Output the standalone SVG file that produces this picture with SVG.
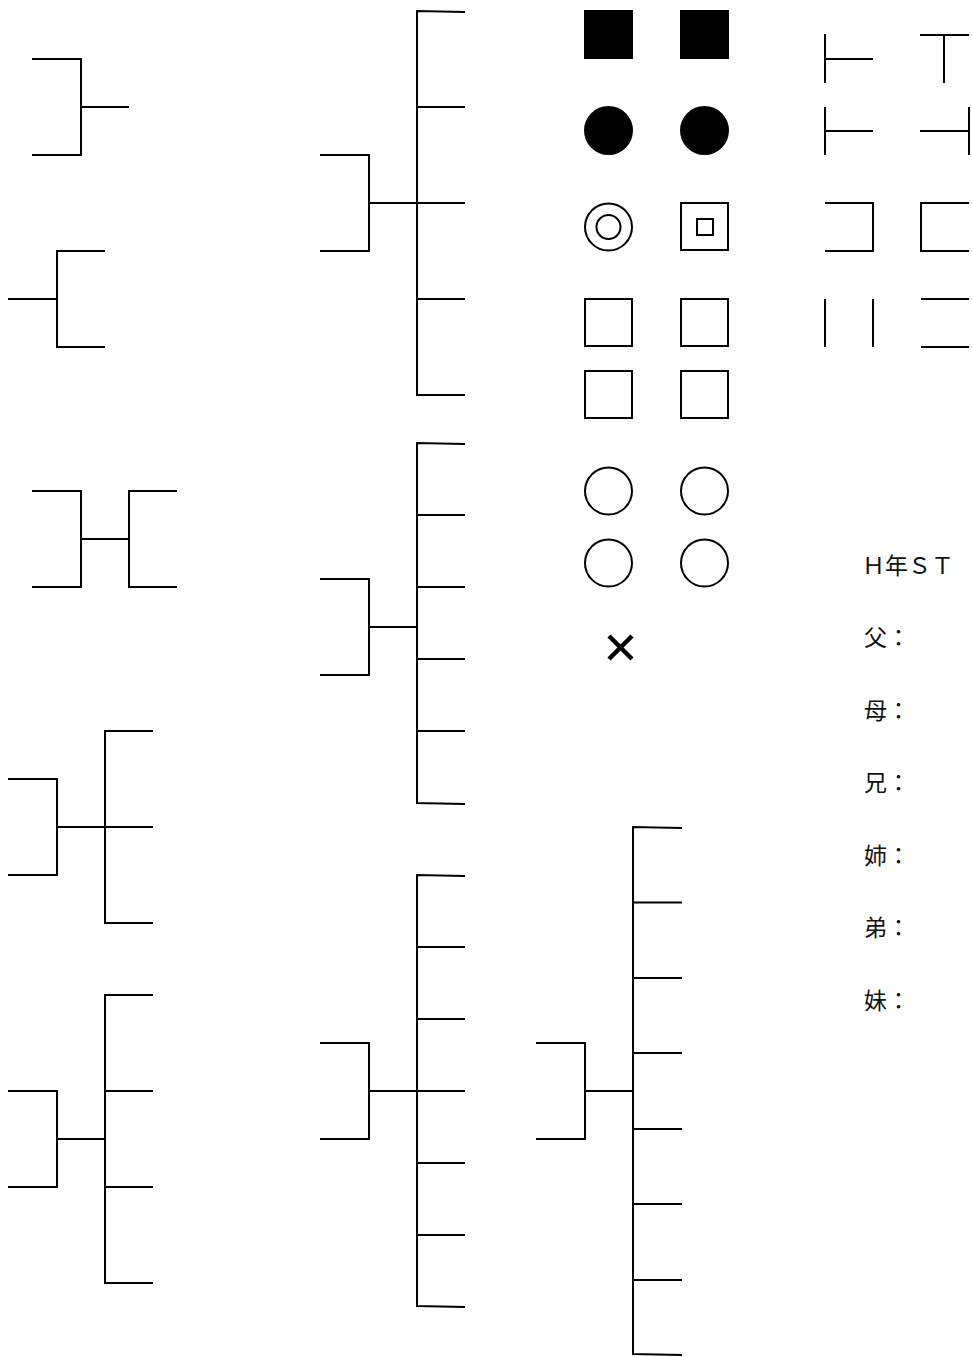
<svg xmlns="http://www.w3.org/2000/svg" width="972" height="1357" viewBox="0 0 972 1357">
<style>
.ln{fill:none;stroke:#000;stroke-width:2;stroke-linecap:butt;stroke-linejoin:miter}
.sym{fill:none;stroke:#000;stroke-width:2}
.fill{fill:#000;stroke:none}
.lbl{font-family:"Noto Sans CJK JP","Noto Sans",sans-serif;font-size:23px;fill:#111}
</style>
<rect x="0" y="0" width="972" height="1357" fill="#fff"/>
<g id="connectors">
  <path id="br1" class="ln" d="M32,59 H81 V155 H32 M81,107 H129"/>
  <path id="br2" class="ln" d="M105,251 H57 V347 H105 M57,299 H8"/>
  <path id="br3" class="ln" d="M32,491 H81 V587 H32 M81,539 H129 M177,491 H129 V587 H177"/>
  <path id="br4" class="ln" d="M8,779 H57 V875 H8 M57,827 H105 M153,731 H105 V923 H153 M105,827 H153"/>
  <path id="br5" class="ln" d="M8,1091 H57 V1187 H8 M57,1139 H105 M153,995 H105 V1283 H153 M105,1091 H153 M105,1187 H153"/>
  <path id="big1" class="ln" d="M320,155 H369 V251 H320 M369,203 H417 M465,12 L417,11 V395 L465,395 M417,107 H465 M417,203 H465 M417,299 H465"/>
  <path id="big2" class="ln" d="M320,579 H369 V675 H320 M369,627 H417 M465,444 L417,443 V803 L465,804 M417,515 H465 M417,587 H465 M417,659 H465 M417,731 H465"/>
  <path id="big3" class="ln" d="M320,1043 H369 V1139 H320 M369,1091 H417 M465,876 L417,875 V1306 L465,1307 M417,947 H465 M417,1019 H465 M417,1091 H465 M417,1163 H465 M417,1235 H465"/>
  <path id="big4" class="ln" d="M536,1043 H585 V1139 H536 M585,1091 H633 M682,828 L633,827 V1354 L682,1355 M633,902.5 H682 M633,978 H682 M633,1053 H682 M633,1129 H682 M633,1204 H682 M633,1280 H682"/>
</g>
<g id="sym-fill-sq-1"><rect class="fill" x="584" y="10" width="49" height="49"/></g>
<g id="sym-fill-sq-2"><rect class="fill" x="680" y="10" width="49" height="49"/></g>
<g id="sym-fill-ci-1"><circle class="fill" cx="608.5" cy="130.5" r="24.5"/></g>
<g id="sym-fill-ci-2"><circle class="fill" cx="704.5" cy="130.5" r="24.5"/></g>
<g id="sym-double-ci"><circle class="sym" cx="608.5" cy="227" r="23.5"/><circle class="sym" cx="608.5" cy="227" r="12"/></g>
<g id="sym-double-sq"><rect class="sym" x="681" y="203" width="47" height="47"/><rect class="sym" x="697" y="219" width="16" height="16"/></g>
<g id="sym-sq-1"><rect class="sym" x="585" y="299" width="47" height="47"/></g>
<g id="sym-sq-2"><rect class="sym" x="681" y="299" width="47" height="47"/></g>
<g id="sym-sq-3"><rect class="sym" x="585" y="371" width="47" height="47"/></g>
<g id="sym-sq-4"><rect class="sym" x="681" y="371" width="47" height="47"/></g>
<g id="sym-ci-1"><circle class="sym" cx="608.5" cy="491" r="23.5"/></g>
<g id="sym-ci-2"><circle class="sym" cx="704.5" cy="491" r="23.5"/></g>
<g id="sym-ci-3"><circle class="sym" cx="608.5" cy="563" r="23.5"/></g>
<g id="sym-ci-4"><circle class="sym" cx="704.5" cy="563" r="23.5"/></g>
<g id="sym-cross"><path d="M609,636 L632,659 M632,636 L609,659" fill="none" stroke="#000" stroke-width="4.5"/></g>
<g id="line-1"><path class="ln" d="M825,34 V83 M825,59 H873"/></g>
<g id="line-2"><path class="ln" d="M920,35 H969 M944,35 V83"/></g>
<g id="line-3"><path class="ln" d="M825,107 V155 M825,131 H873"/></g>
<g id="line-4"><path class="ln" d="M920,131 H969 M969,107 V155"/></g>
<g id="line-5"><path class="ln" d="M825,203 H873 V251 H825"/></g>
<g id="line-6"><path class="ln" d="M969,203 H921 V251 H969"/></g>
<g id="line-7"><path class="ln" d="M825,299 V347 M873,299 V347"/></g>
<g id="line-8"><path class="ln" d="M921,299 H969 M921,347 H969"/></g>
<g id="label-title"><text class="lbl" x="862" y="574">Ｈ年ＳＴ</text></g>
<g id="label-father"><text class="lbl" x="864" y="646">父：</text></g>
<g id="label-mother"><text class="lbl" x="864" y="718.5">母：</text></g>
<g id="label-brother"><text class="lbl" x="864" y="791">兄：</text></g>
<g id="label-sister"><text class="lbl" x="864" y="863.5">姉：</text></g>
<g id="label-ybrother"><text class="lbl" x="864" y="936">弟：</text></g>
<g id="label-ysister"><text class="lbl" x="864" y="1008.5">妹：</text></g>
</svg>
